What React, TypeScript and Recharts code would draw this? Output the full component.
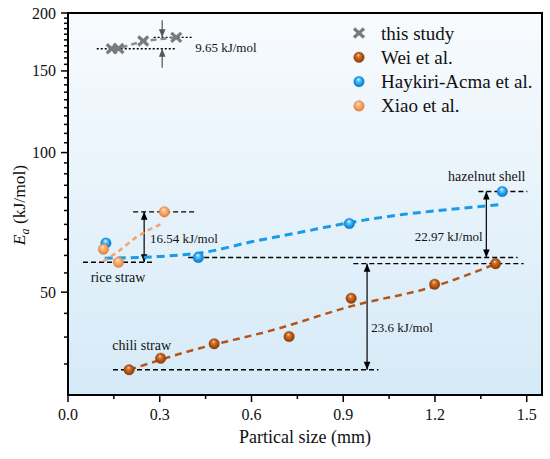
import React from "react"
import {
  ComposedChart,
  Scatter,
  Line,
  XAxis,
  YAxis,
  CartesianGrid,
  ReferenceLine,
  ReferenceArea,
  ReferenceDot,
  Legend,
} from "recharts"

const FONT = '"Liberation Serif", "Times New Roman", serif'

// this study
const studyX = [0.143, 0.165, 0.246, 0.354]
const studyY = [167.5, 167.7, 174.0, 177.2]
// Wei et al. (chili straw)
const weiX = [0.2, 0.303, 0.478, 0.723, 0.926, 1.199, 1.398]
const weiY = [34.0, 36.0, 38.7, 40.1, 48.5, 52.0, 57.6]
// Haykiri-Acma et al. (hazelnut shell)
const haykiriX = [0.124, 0.426, 0.92, 1.42]
const haykiriY = [63.8, 59.4, 70.3, 82.4]
// Xiao et al. (rice straw)
const xiaoX = [0.116, 0.165, 0.315]
const xiaoY = [61.9, 58.0, 74.5]

// fitted trend lines
const weiFitX = [0.2, 0.39, 0.68, 0.93, 1.2, 1.4]
const weiFitY = [34.0, 37.2, 41.6, 46.7, 51.5, 57.6]
const haykiriFitX = [0.12, 0.3, 0.45, 0.6, 0.76, 0.92, 1.1, 1.25, 1.42]
const haykiriFitY = [59.2, 59.7, 61.0, 64.2, 67.3, 70.6, 73.6, 75.4, 77.3]
const xiaoFitX = [0.116, 0.163, 0.224, 0.311]
const xiaoFitY = [58.3, 61.1, 65.7, 70.4]

const xTicks = [0, 0.15, 0.3, 0.45, 0.6, 0.75, 0.9, 1.05, 1.2, 1.35, 1.5]
const xMajor = [0, 0.3, 0.6, 0.9, 1.2, 1.5]
const yTicks = [
  35, 40, 45, 50, 55, 60, 65, 70, 75, 80, 85, 90, 95, 100, 105, 110, 115, 120, 125, 130, 135, 140,
  145, 150, 155, 160, 165, 170, 175, 180, 185, 190, 195, 200,
]
const yMajor = [50, 100, 150, 200]

// dashed guide lines and difference arrows
const guides = [
  { x1: 0.094, x2: 0.35, y: 167.5, dash: "2 2" },
  { x1: 0.28, x2: 0.41, y: 177.2, dash: "2 2" },
  { x1: 0.213, x2: 0.416, y: 74.5, dash: "5 3" },
  { x1: 0.049, x2: 0.278, y: 58.0, dash: "5 3" },
  { x1: 0.393, x2: 1.47, y: 59.4, dash: "5 3" },
  { x1: 1.342, x2: 1.502, y: 82.4, dash: "5 3" },
  { x1: 0.933, x2: 1.49, y: 57.6, dash: "5 3" },
  { x1: 0.147, x2: 1.015, y: 34.0, dash: "5 3" },
]
const arrows = [
  { x: 0.249, y1: 74.5, y2: 58.0, both: true, color: "#000" },
  { x: 1.368, y1: 82.4, y2: 59.4, both: true, color: "#000" },
  { x: 0.978, y1: 57.6, y2: 34.0, both: true, color: "#000" },
  { x: 0.308, y1: 193, y2: 177.2, both: false, color: "#555" },
  { x: 0.308, y1: 152.4, y2: 167.5, both: false, color: "#555" },
]
const notes = [
  { x: 0.416, y: 168.4, text: "9.65 kJ/mol", size: 13 },
  { x: 0.268, y: 65.4, text: "16.54 kJ/mol", size: 13 },
  { x: 1.134, y: 65.8, text: "22.97 kJ/mol", size: 13 },
  { x: 0.992, y: 41.9, text: "23.6 kJ/mol", size: 13 },
  { x: 0.074, y: 53.8, text: "rice straw", size: 14 },
  { x: 0.145, y: 38.4, text: "chili straw", size: 14 },
  { x: 1.243, y: 88.8, text: "hazelnut shell", size: 14 },
]

const zip = (xs: number[], ys: number[]) => xs.map((x, i) => ({ x, y: ys[i] }))

const PLOT_LEFT = 68
const PLOT_BOTTOM = 395

const Ball = ({ cx, cy, grad }: any) => (
  <circle cx={cx} cy={cy} r={5.3} fill={`url(#${grad})`} stroke={`url(#${grad})`} strokeWidth={0.3} />
)

const Cross = ({ cx, cy }: any) => (
  <g stroke="#7b7b7b" strokeWidth={3.2} strokeLinecap="butt">
    <line x1={cx - 5} y1={cy - 4.5} x2={cx + 5} y2={cy + 4.5} />
    <line x1={cx - 5} y1={cy + 4.5} x2={cx + 5} y2={cy - 4.5} />
  </g>
)

const head = (x: number, y: number, fromX: number, fromY: number, color: string) => {
  const dx = x - fromX
  const dy = y - fromY
  const len = Math.sqrt(dx * dx + dy * dy) || 1
  const ux = dx / len
  const uy = dy / len
  const L = 8
  const W = 3.3
  const bx = x - ux * L
  const by = y - uy * L
  return (
    <polygon
      points={`${x},${y} ${bx - uy * W},${by + ux * W} ${bx + uy * W},${by - ux * W}`}
      fill={color}
    />
  )
}

const ArrowShape = ({ x1, y1, x2, y2, both, color }: any) => {
  if ([x1, y1, x2, y2].some((v) => v == null || isNaN(v))) return null
  return (
    <g>
      <line x1={x1} y1={y1} x2={x2} y2={y2} stroke={color} strokeWidth={1.2} />
      {head(x2, y2, x1, y1, color)}
      {both && head(x1, y1, x2, y2, color)}
    </g>
  )
}

const XTick = ({ x, payload }: any) => {
  const major = xMajor.some((m) => Math.abs(m - payload.value) < 1e-6)
  return (
    <g>
      <line x1={x} x2={x} y1={PLOT_BOTTOM} y2={PLOT_BOTTOM + (major ? 7 : 4)} stroke="#000" strokeWidth={1.5} />
      {major && (
        <text x={x} y={PLOT_BOTTOM + 25} textAnchor="middle" fontSize={16} fontFamily={FONT} fill="#111">
          {payload.value.toFixed(1)}
        </text>
      )}
    </g>
  )
}

const YTick = ({ y, payload }: any) => {
  const major = yMajor.includes(payload.value)
  return (
    <g>
      <line x1={PLOT_LEFT} x2={PLOT_LEFT - (major ? 7 : 4)} y1={y} y2={y} stroke="#000" strokeWidth={1.5} />
      {major && (
        <text x={PLOT_LEFT - 12} y={y + 5.5} textAnchor="end" fontSize={16} fontFamily={FONT} fill="#111">
          {payload.value}
        </text>
      )}
    </g>
  )
}

const legendItems = [
  { name: "this study", kind: "cross", grad: "" },
  { name: "Wei et al.", kind: "ball", grad: "gWei" },
  { name: "Haykiri-Acma et al.", kind: "ball", grad: "gHay" },
  { name: "Xiao et al.", kind: "ball", grad: "gXiao" },
]

const LegendBox = () => (
  <svg width={200} height={104} style={{ overflow: "visible" }}>
    {legendItems.map((it, i) => {
      const cy = 15 + i * 24.3
      return (
        <g key={it.name}>
          {it.kind === "cross" ? <Cross cx={14} cy={cy} /> : <Ball cx={14} cy={cy} grad={it.grad} />}
          <text x={36} y={cy + 6.5} fontSize={19} fontFamily={FONT} fill="#111">
            {it.name}
          </text>
        </g>
      )
    })}
  </svg>
)

const YLabel = () => (
  <text
    transform="translate(25,205) rotate(-90)"
    textAnchor="middle"
    fontSize={17.5}
    fontFamily={FONT}
    fill="#111"
  >
    <tspan fontStyle="italic">E</tspan>
    <tspan fontStyle="italic" fontSize={12} dy={4}>
      a
    </tspan>
    <tspan dy={-4}> (kJ/mol)</tspan>
  </text>
)

export default function App() {
  return (
    <div style={{ position: "absolute", left: 0, top: 0, width: 550, height: 459, background: "#fff" }}>
      <ComposedChart width={550} height={459} margin={{ top: 13, right: 8, bottom: 34, left: 8 }}>
        <defs>
          <linearGradient id="bg" x1="0" y1="0" x2="0" y2="1">
            <stop offset="0%" stopColor="#f8fbfe" />
            <stop offset="100%" stopColor="#d5eaf7" />
          </linearGradient>
          <radialGradient id="gWei" cx="50%" cy="50%" r="55%" fx="42%" fy="28%">
            <stop offset="0%" stopColor="#ffe2c8" />
            <stop offset="25%" stopColor="#d97b34" />
            <stop offset="65%" stopColor="#b0500f" />
            <stop offset="100%" stopColor="#7a3206" />
          </radialGradient>
          <radialGradient id="gHay" cx="50%" cy="50%" r="55%" fx="45%" fy="28%">
            <stop offset="0%" stopColor="#ffffff" />
            <stop offset="25%" stopColor="#6cc8ff" />
            <stop offset="65%" stopColor="#1b98ea" />
            <stop offset="100%" stopColor="#0a6cb5" />
          </radialGradient>
          <radialGradient id="gXiao" cx="50%" cy="50%" r="55%" fx="42%" fy="28%">
            <stop offset="0%" stopColor="#fff3e6" />
            <stop offset="25%" stopColor="#ffc08e" />
            <stop offset="65%" stopColor="#f39c5b" />
            <stop offset="100%" stopColor="#d47633" />
          </radialGradient>
        </defs>
        <CartesianGrid horizontal={false} vertical={false} fill="url(#bg)" fillOpacity={1} />
        <XAxis
          type="number"
          dataKey="x"
          domain={[0, 1.55]}
          allowDataOverflow
          ticks={xTicks}
          interval={0}
          tick={<XTick />}
          tickLine={false}
          axisLine={{ stroke: "#000", strokeWidth: 2 }}
          height={30}
          label={{
            value: "Partical size (mm)",
            position: "bottom",
            offset: 5,
            style: { fontSize: 18, fontFamily: FONT, fill: "#111" },
          }}
        />
        <YAxis
          type="number"
          dataKey="y"
          scale="log"
          domain={[30, 200]}
          allowDataOverflow
          ticks={yTicks}
          interval={0}
          tick={<YTick />}
          tickLine={false}
          axisLine={{ stroke: "#000", strokeWidth: 2 }}
          width={60}
          label={{ content: () => <YLabel /> }}
        />
        <ReferenceArea x1={0} x2={1.55} y1={30} y2={200} fill="none" stroke="#000" strokeWidth={2} />

        {guides.map((g, i) => (
          <ReferenceLine
            key={`g${i}`}
            segment={[
              { x: g.x1, y: g.y },
              { x: g.x2, y: g.y },
            ]}
            stroke="#000"
            strokeWidth={1.4}
            strokeDasharray={g.dash}
          />
        ))}
        {arrows.map((a, i) => (
          <ReferenceLine
            key={`a${i}`}
            segment={[
              { x: a.x, y: a.y1 },
              { x: a.x, y: a.y2 },
            ]}
            stroke={a.color}
            shape={(p: any) => <ArrowShape {...p} both={a.both} color={a.color} />}
          />
        ))}
        {notes.map((n, i) => (
          <ReferenceDot
            key={`n${i}`}
            x={n.x}
            y={n.y}
            r={0}
            ifOverflow="visible"
            shape={(p: any) => (
              <text x={p.cx} y={p.cy + n.size * 0.35} fontSize={n.size} fontFamily={FONT} fill="#111">
                {n.text}
              </text>
            )}
          />
        ))}

        <Line
          data={zip(studyX, studyY)}
          dataKey="y"
          type="linear"
          stroke="#8a8a8a"
          strokeWidth={2.5}
          strokeDasharray="6 4"
          dot={false}
          isAnimationActive={false}
          legendType="none"
        />
        <Line
          data={zip(weiFitX, weiFitY)}
          dataKey="y"
          type="monotone"
          stroke="#b5531a"
          strokeWidth={2.5}
          strokeDasharray="7 5"
          dot={false}
          isAnimationActive={false}
          legendType="none"
        />
        <Line
          data={zip(haykiriFitX, haykiriFitY)}
          dataKey="y"
          type="monotone"
          stroke="#1a9be8"
          strokeWidth={3}
          strokeDasharray="8 5"
          dot={false}
          isAnimationActive={false}
          legendType="none"
        />
        <Line
          data={zip(xiaoFitX, xiaoFitY)}
          dataKey="y"
          type="monotone"
          stroke="#f4a46a"
          strokeWidth={2.5}
          strokeDasharray="5 4"
          dot={false}
          isAnimationActive={false}
          legendType="none"
        />

        <Scatter name="this study" data={zip(studyX, studyY)} shape={<Cross />} isAnimationActive={false} />
        <Scatter
          name="Wei et al."
          data={zip(weiX, weiY)}
          shape={(p: any) => <Ball {...p} grad="gWei" />}
          isAnimationActive={false}
        />
        <Scatter
          name="Haykiri-Acma et al."
          data={zip(haykiriX, haykiriY)}
          shape={(p: any) => <Ball {...p} grad="gHay" />}
          isAnimationActive={false}
        />
        <Scatter
          name="Xiao et al."
          data={zip(xiaoX, xiaoY)}
          shape={(p: any) => <Ball {...p} grad="gXiao" />}
          isAnimationActive={false}
        />

        <Legend
          layout="vertical"
          align="center"
          verticalAlign="middle"
          wrapperStyle={{ left: 345, top: 18, width: 200, height: 104 }}
          content={() => <LegendBox />}
        />
      </ComposedChart>
    </div>
  )
}
